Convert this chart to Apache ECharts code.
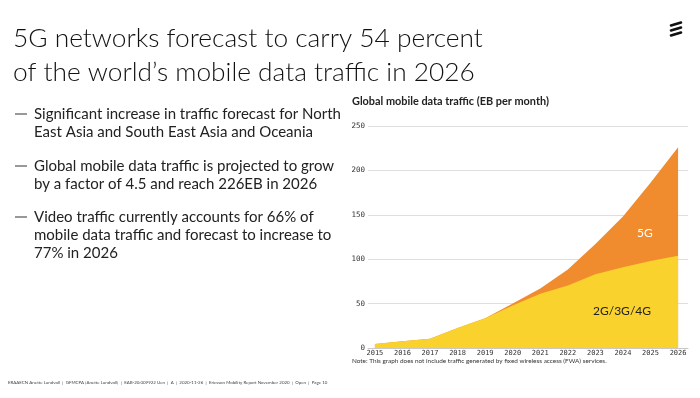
<!DOCTYPE html>
<html>
<head>
<meta charset="utf-8">
<script src="https://cdn.jsdelivr.net/npm/echarts@6/dist/echarts.min.js"></script>
<style>
  html, body { margin: 0; padding: 0; background: #fff; }
  #chart { width: 700px; height: 398px; }
</style>
</head>
<body>
<div id="chart"></div>
<script>
// data
var years = [2015, 2016, 2017, 2018, 2019, 2020, 2021, 2022, 2023, 2024, 2025, 2026];
var legacy = [4.5, 7.5, 10.5, 22.5, 33.5, 48, 61, 70.5, 83, 91, 98, 104];
var fiveG = [0, 0, 0, 0, 0, 2, 6, 18, 34, 57, 88, 122];
var yTicks = [0, 50, 100, 150, 200, 250];

var bullets = [
  ["Significant increase in traffic forecast for North", "East Asia and South East Asia and Oceania"],
  ["Global mobile data traffic is projected to grow", "by a factor of 4.5 and reach 226EB in 2026"],
  ["Video traffic currently accounts for 66% of", "mobile data traffic and forecast to increase to", "77% in 2026"]
];

var sans = "Lato, 'Noto Sans', sans-serif";
var mono = "'DejaVu Sans Mono', monospace";

var chart = echarts.init(document.getElementById("chart"));

// [year, value] pairs, 5G drawn as the total behind the legacy area
var legacyPts = [];
var totalPts = [];
for (var i = 0; i < years.length; i++) {
  legacyPts.push([years[i], legacy[i]]);
  totalPts.push([years[i], legacy[i] + fiveG[i]]);
}

var graphics = [
  {
    type: "text", left: 13, top: 22, z: 10,
    style: {
      text: "5G networks forecast to carry 54 percent\nof the world\u2019s mobile data traffic in 2026",
      font: "300 26.3px " + sans, fill: "#111", lineHeight: 33.5
    }
  },
  {
    type: "text", left: 352, top: 96, z: 10,
    style: { text: "Global mobile data traffic (EB per month)", font: "bold 10.9px " + sans, fill: "#222" }
  },
  {
    type: "text", left: 352, top: 358, z: 10,
    style: { text: "Note: This graph does not include traffic generated by fixed wireless access (FWA) services.", font: "6.4px " + sans, fill: "#333" }
  },
  {
    type: "text", left: 8, top: 381, z: 10,
    style: { text: "ERAAECN Anette Lundvoll  |  GFMCPA [Anette Lundvoll]  |  EAB-20:009922 Uen  |  A  |  2020-11-26  |  Ericsson Mobility Report November 2020  |  Open  |  Page 10", font: "4.45px " + sans, fill: "#444" }
  },
  {
    type: "text", left: 637, top: 227, z: 10,
    style: { text: "5G", font: "12px " + sans, fill: "#fff" }
  },
  {
    type: "text", left: 593, top: 305, z: 10,
    style: { text: "2G/3G/4G", font: "12px " + sans, fill: "#222" }
  }
];

// bullet list
var by = [105, 157, 208];
bullets.forEach(function (b, i) {
  graphics.push({
    type: "line", z: 10,
    shape: { x1: 15, y1: by[i] + 9, x2: 27, y2: by[i] + 9 },
    style: { stroke: "#333", lineWidth: 1 }
  });
  graphics.push({
    type: "text", left: 34, top: by[i], z: 10,
    style: { text: b.join("\n"), font: "15px " + sans, fill: "#222", lineHeight: 18 }
  });
});

// ericsson logo bars
[24, 29, 34].forEach(function (y) {
  graphics.push({
    type: "line", z: 10,
    shape: { x1: 671, y1: y + 1.5, x2: 681, y2: y - 1.5 },
    style: { stroke: "#111", lineWidth: 2.6, lineCap: "round" }
  });
});

var option = {
  animation: false,
  backgroundColor: "#fff",
  grid: { left: 368, right: 12, top: 126, bottom: 50 },
  xAxis: {
    type: "value",
    min: 2014.75,
    max: 2026.36,
    splitLine: { show: false },
    axisLine: { show: true, lineStyle: { color: "#c8c8c8", width: 1 } },
    axisTick: { show: false },
    axisLabel: {
      customValues: years,
      margin: 2,
      fontFamily: mono,
      fontSize: 7,
      color: "#333",
      formatter: function (v) { return String(v); }
    }
  },
  yAxis: {
    type: "value",
    min: 0,
    max: 250,
    interval: 50,
    axisLine: { show: false },
    axisTick: { show: false },
    splitLine: { lineStyle: { color: "#dedede", width: 1 } },
    axisLabel: {
      margin: 3,
      fontFamily: mono,
      fontSize: 7.5,
      color: "#333",
      customValues: yTicks
    }
  },
  series: [
    {
      name: "5G",
      type: "line",
      data: totalPts,
      symbol: "none",
      lineStyle: { width: 0 },
      areaStyle: { color: "#F08C2E", opacity: 1 },
      z: 2
    },
    {
      name: "2G/3G/4G",
      type: "line",
      data: legacyPts,
      symbol: "none",
      lineStyle: { width: 0 },
      areaStyle: { color: "#FAD22D", opacity: 1 },
      z: 3
    }
  ],
  graphic: graphics
};

chart.setOption(option);
</script>
</body>
</html>
